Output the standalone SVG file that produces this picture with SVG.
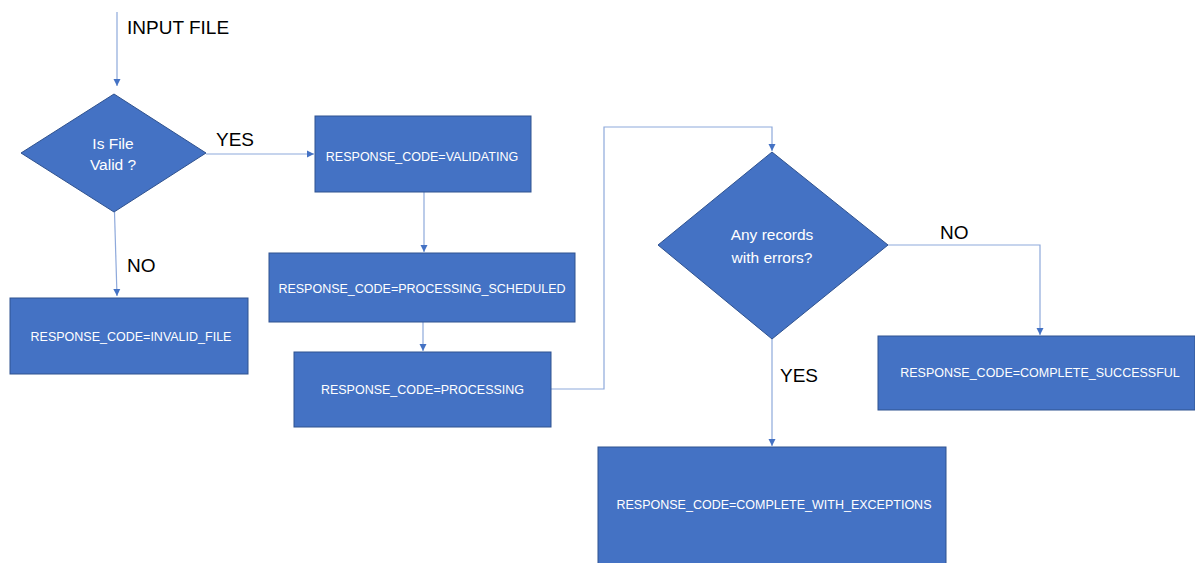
<svg xmlns="http://www.w3.org/2000/svg" width="1195" height="563" viewBox="0 0 1195 563">
<defs>
<marker id="ah" markerWidth="8" markerHeight="8" refX="7" refY="4" orient="auto" markerUnits="userSpaceOnUse">
<path d="M0,0.5 L7,4 L0,7.5 Z" fill="#4472C4"/>
</marker>
<style>
.box{fill:#4472C4;stroke:#2F528F;stroke-width:1}
.lbl{fill:#ffffff;font-family:"Liberation Sans",Arial,sans-serif;font-size:12.5px;text-anchor:middle}
.dl{fill:#ffffff;font-family:"Liberation Sans",Arial,sans-serif;font-size:15.5px;text-anchor:middle}
.cl{fill:#000000;font-family:"Liberation Sans",Arial,sans-serif;font-size:19px}
.con{fill:none;stroke:#8EA9DB;stroke-width:1.2}
</style>
</defs>
<rect width="1195" height="563" fill="#ffffff"/>
<g id="connectors">
<line class="con" x1="117" y1="12" x2="117" y2="86" marker-end="url(#ah)"/>
<line class="con" x1="206" y1="154" x2="314" y2="154" marker-end="url(#ah)"/>
<line class="con" x1="114.5" y1="212" x2="117" y2="296" marker-end="url(#ah)"/>
<line class="con" x1="424" y1="192" x2="424" y2="252" marker-end="url(#ah)"/>
<line class="con" x1="423" y1="322" x2="423" y2="351" marker-end="url(#ah)"/>
<polyline class="con" points="551,389 604,389 604,127 772,127 772,151" marker-end="url(#ah)"/>
<polyline class="con" points="888,245 1040,245 1040,335" marker-end="url(#ah)"/>
<line class="con" x1="772" y1="339" x2="772" y2="446" marker-end="url(#ah)"/>
</g>
<g id="input-label"><text class="cl" x="127" y="34">INPUT FILE</text></g>
<g id="yes1-label"><text class="cl" x="216" y="146">YES</text></g>
<g id="no1-label"><text class="cl" x="127" y="272">NO</text></g>
<g id="no2-label"><text class="cl" x="940" y="239">NO</text></g>
<g id="yes2-label"><text class="cl" x="780" y="382">YES</text></g>
<g id="decision-valid">
<polygon class="box" points="114,94 206,153 114,212 21,153"/>
<text class="dl" x="113" y="149">Is File</text>
<text class="dl" x="113" y="170">Valid ?</text>
</g>
<g id="validating">
<rect class="box" x="315" y="116" width="216" height="76"/>
<text class="lbl" x="422" y="161">RESPONSE_CODE=VALIDATING</text>
</g>
<g id="processing-scheduled">
<rect class="box" x="269" y="253" width="306" height="69"/>
<text class="lbl" x="422" y="293">RESPONSE_CODE=PROCESSING_SCHEDULED</text>
</g>
<g id="processing">
<rect class="box" x="294" y="352" width="257" height="75"/>
<text class="lbl" x="422.5" y="394">RESPONSE_CODE=PROCESSING</text>
</g>
<g id="invalid-file">
<rect class="box" x="10" y="298" width="238" height="76"/>
<text class="lbl" x="131" y="341">RESPONSE_CODE=INVALID_FILE</text>
</g>
<g id="decision-errors">
<polygon class="box" points="772,152 888,245 772,339 658,245"/>
<text class="dl" x="772" y="240">Any records</text>
<text class="dl" x="772" y="263">with errors?</text>
</g>
<g id="complete-successful">
<rect class="box" x="878" y="336" width="317" height="74"/>
<text class="lbl" x="1040" y="377">RESPONSE_CODE=COMPLETE_SUCCESSFUL</text>
</g>
<g id="complete-exceptions">
<rect class="box" x="598" y="447" width="348" height="120"/>
<text class="lbl" x="774" y="509">RESPONSE_CODE=COMPLETE_WITH_EXCEPTIONS</text>
</g>
</svg>
